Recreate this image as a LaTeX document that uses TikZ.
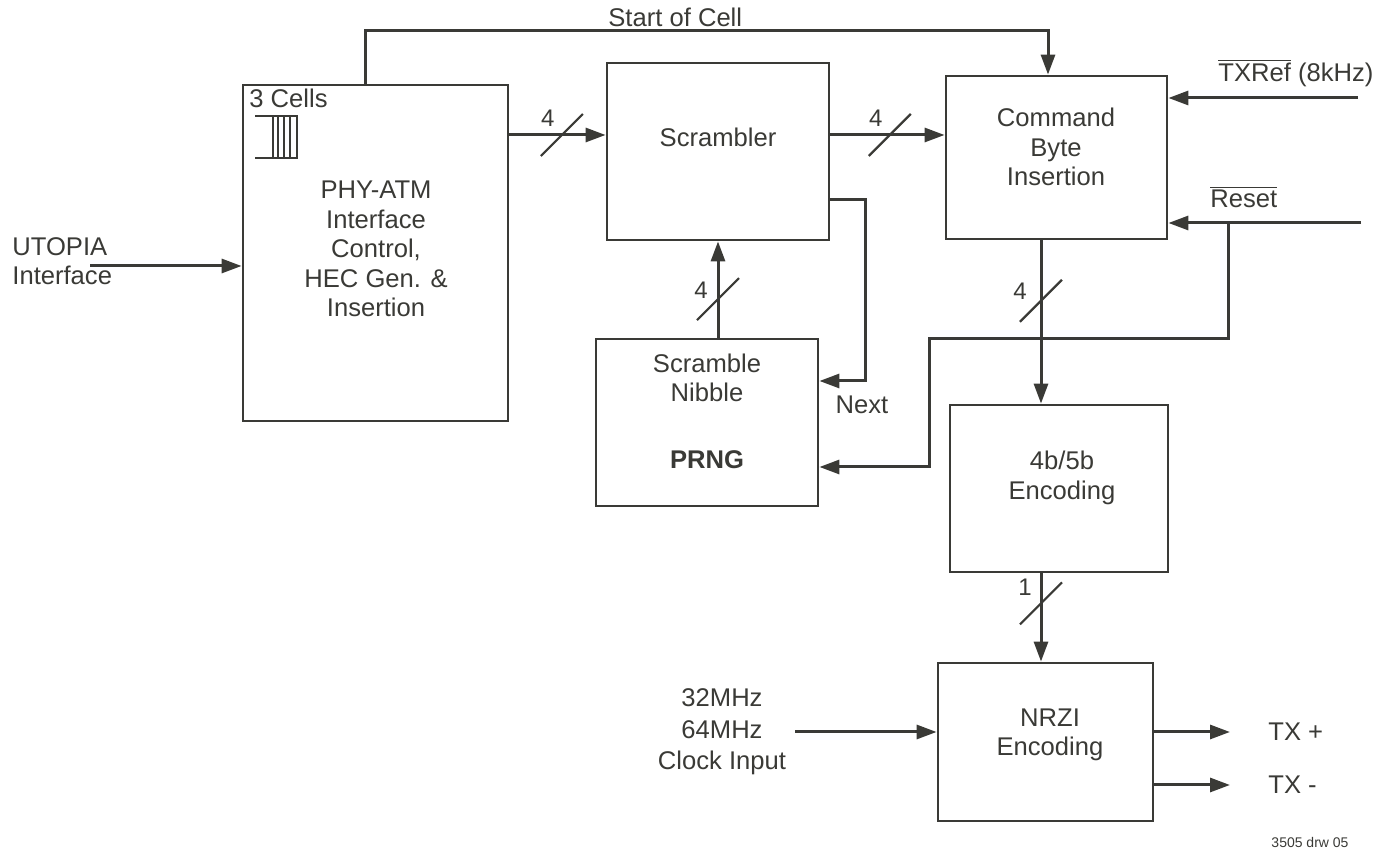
\documentclass[tikz,border=0pt]{standalone}
\usepackage{fontspec}
\setmainfont{Liberation Sans}
\usetikzlibrary{arrows.meta}
\definecolor{Ink Gray}{HTML}{3A3A36}

\begin{document}
\begin{tikzpicture}[x=0.5pt, y=-0.5pt,
    every node/.style={text=Ink Gray, font=\fontsize{12.8}{14.8}\selectfont},
    blk/.style={draw=Ink Gray, line width=1.4pt, inner sep=0pt},
    sig/.style={draw=Ink Gray, line width=1.5pt, -{Triangle[length=10pt,width=7pt]}},
    wire/.style={draw=Ink Gray, line width=1.5pt},
    busslash/.style={draw=Ink Gray, line width=1.1pt},
    buslbl/.style={font=\fontsize{12}{13}\selectfont, inner sep=0pt},
    txt/.style={align=center, inner sep=0pt}]
    \useasboundingbox (0,0) rectangle (1389,854);

    % Blocks
    \node[blk, minimum width=132.5pt, minimum height=168pt] (phy) at (375.5,253) {};
    \node[blk, minimum width=111pt, minimum height=88.5pt] (scr) at (718,151.5) {};
    \node[blk, minimum width=110.5pt, minimum height=81.5pt] (cmd) at (1056.5,157.5) {};
    \node[blk, minimum width=111pt, minimum height=83.5pt] (prng) at (707,422.5) {};
    \node[blk, minimum width=109pt, minimum height=83.5pt] (enc) at (1059,488.5) {};
    \node[blk, minimum width=107.5pt, minimum height=79pt] (nrzi) at (1045.5,742) {};

    % Block texts
    \node[txt] (phytxt) at (376,249) {PHY-ATM\\Interface\\Control,\\HEC Gen. \&\\Insertion};
    \node[txt] (scrtxt) at (718,137) {Scrambler};
    \node[txt] (cmdtxt) at (1056,147) {Command\\Byte\\Insertion};
    \node[txt] (prngtxt) at (707,378) {Scramble\\Nibble};
    \node[txt, font=\fontsize{12.8}{14.8}\selectfont\bfseries] (prngname) at (707,460) {PRNG};
    \node[txt] (enctxt) at (1062,478) {4b/5b\\Encoding};
    \node[txt] (nrzitxt) at (1050,735) {NRZI\\Encoding};

    % 3 cell buffer
    \node[anchor=base west, inner sep=0pt] (cells) at (249,108) {3 Cells};
    \draw[blk] (255,116) -- (297,116) (255,158) -- (297,158);
    \draw[blk] (273,116) rectangle (297,158);
    \foreach \xc in {278,284,290}
        \draw[blk] (\xc,116) -- (\xc,158);

    % Inputs and outputs
    \coordinate (utin) at (90,266);
    \coordinate (txin) at (1358,98);
    \coordinate (rstin) at (1361,223);
    \coordinate (rstj) at (1228,223);
    \coordinate (clkin) at (795,732);
    \coordinate (txp) at (1230,732);
    \coordinate (txm) at (1230,785);

    \node[align=left, anchor=west, inner sep=0pt] (utopia) at (12,261) {UTOPIA\\Interface};
    \node[anchor=base west, inner sep=0pt] (soc) at (608,27) {Start of Cell};
    \node[anchor=base west, inner sep=0pt] (txref) at (1218,82) {$\overline{\hbox{TXRef}}$ (8kHz)};
    \node[anchor=base west, inner sep=0pt] (rst) at (1210,208) {$\overline{\hbox{Reset}}$};
    \node[inner sep=0pt] (next) at (862,405) {Next};
    \node[txt, font=\fontsize{12.8}{15.8}\selectfont] (clk) at (722,732) {32MHz\\64MHz\\Clock Input};
    \node[anchor=west, inner sep=0pt] (txplus) at (1268,732) {TX +};
    \node[anchor=west, inner sep=0pt] (txminus) at (1268,785) {TX -};
    \node[inner sep=0pt, font=\fontsize{7}{8}\selectfont] (drw) at (1310,843) {3505 drw 05};

    % Connectors
    \draw[sig] (utin) -- (utin -| phy.west);
    \draw[sig] (365,0 |- phy.north) -- (365,31) -| (1048,0 |- cmd.north);
    \draw[sig] (phy.east |- 0,135) -- coordinate[pos=.545] (b1) (scr.west |- 0,135);
    \draw[sig] (scr.east |- 0,135) -- coordinate[pos=.52] (b2) (cmd.west |- 0,135);
    \draw[sig] (prng.north -| 718,0) -- coordinate[pos=.40] (b3) (scr.south -| 718,0);
    \draw[sig] (scr.east |- 0,200) -| (865,381) -- (prng.east |- 0,381);
    \draw[sig] (txin) -- (txin -| cmd.east);
    \draw[sig] (rstin) -- (rstin -| cmd.east);
    \draw[sig] (rstj) -- (1228,339) -| (929,467) -- (prng.east |- 0,467);
    \draw[sig] (cmd.south -| 1041,0) -- coordinate[pos=.37] (b4) (enc.north -| 1041,0);
    \draw[sig] (enc.south -| 1041,0) -- coordinate[pos=.34] (b5) (nrzi.north -| 1041,0);
    \draw[sig] (clkin) -- (clkin -| nrzi.west);
    \draw[sig] (nrzi.east |- txp) -- (txp);
    \draw[sig] (nrzi.east |- txm) -- (txm);

    % Bus width marks
    \foreach \b/\n/\dx/\dy in {b1/4/-14/-17, b2/4/-14/-17, b3/4/-17/-9, b4/4/-21/-10, b5/1/-16/-16} {
        \draw[busslash] ([shift={(-21,21)}]\b) -- ([shift={(21,-21)}]\b);
        \node[buslbl] at ([shift={(\dx,\dy)}]\b) {\n};
    }
\end{tikzpicture}
\end{document}
